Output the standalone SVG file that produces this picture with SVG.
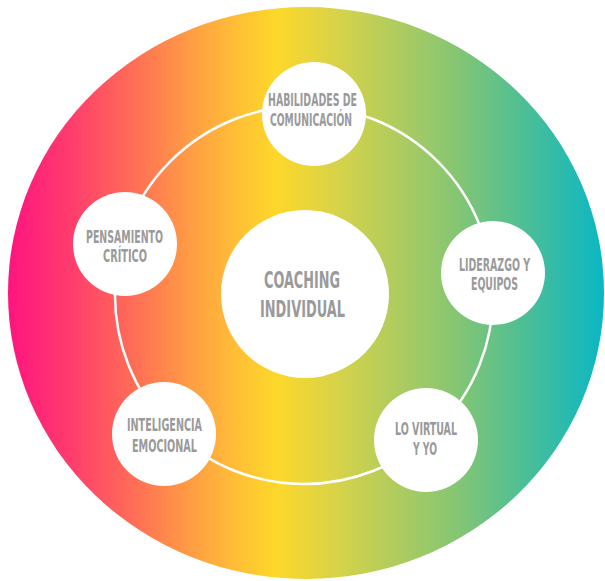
<svg xmlns="http://www.w3.org/2000/svg" width="605" height="581" viewBox="0 0 605 581">
<defs>
<linearGradient id="rainbow" gradientUnits="userSpaceOnUse" x1="8" y1="0" x2="604" y2="0">
<stop offset="0" stop-color="#FF1480"/>
<stop offset="0.1" stop-color="#FF3A6E"/>
<stop offset="0.2" stop-color="#FF6858"/>
<stop offset="0.3" stop-color="#FF9A45"/>
<stop offset="0.38" stop-color="#FFBD36"/>
<stop offset="0.45" stop-color="#FDD82A"/>
<stop offset="0.55" stop-color="#D8D348"/>
<stop offset="0.65" stop-color="#B0CC5E"/>
<stop offset="0.75" stop-color="#86C672"/>
<stop offset="0.86" stop-color="#50BF93"/>
<stop offset="1" stop-color="#0AB7C4"/>
</linearGradient>
<style>
.node{fill:#FFFFFF;}
.lbl{font-family:"Liberation Sans Narrow","DejaVu Sans Condensed","Liberation Sans",sans-serif;font-weight:bold;fill:#9A9A9A;font-size:18px;}
.big{font-size:23px;}
.ring{fill:none;stroke:#FFFFFF;stroke-width:2.5;}
</style>
</defs>
<ellipse id="background" cx="306" cy="293" rx="298" ry="286" fill="url(#rainbow)"/>
<g id="connectors">
<circle class="ring" cx="304" cy="295" r="189"/>
</g>
<g id="center">
<circle class="node" cx="305" cy="294" r="84"/>
<text class="lbl big" x="264" y="288" textLength="76" lengthAdjust="spacingAndGlyphs">COACHING</text>
<text class="lbl big" x="260" y="317" textLength="85" lengthAdjust="spacingAndGlyphs">INDIVIDUAL</text>
</g>
<g id="habilidades">
<circle class="node" cx="314" cy="114" r="52"/>
<text class="lbl" x="268" y="106" textLength="89" lengthAdjust="spacingAndGlyphs">HABILIDADES DE</text>
<text class="lbl" x="270" y="126" textLength="82" lengthAdjust="spacingAndGlyphs">COMUNICACIÓN</text>
</g>
<g id="liderazgo">
<circle class="node" cx="493" cy="273" r="52"/>
<text class="lbl" x="459" y="271" textLength="71" lengthAdjust="spacingAndGlyphs">LIDERAZGO Y</text>
<text class="lbl" x="471" y="290" textLength="47" lengthAdjust="spacingAndGlyphs">EQUIPOS</text>
</g>
<g id="virtual">
<circle class="node" cx="426" cy="440" r="52"/>
<text class="lbl" x="395" y="435" textLength="62" lengthAdjust="spacingAndGlyphs">LO VIRTUAL</text>
<text class="lbl" x="413" y="455" textLength="24" lengthAdjust="spacingAndGlyphs">Y YO</text>
</g>
<g id="inteligencia">
<circle class="node" cx="164" cy="434" r="52"/>
<text class="lbl" x="127" y="431" textLength="75" lengthAdjust="spacingAndGlyphs">INTELIGENCIA</text>
<text class="lbl" x="132" y="452" textLength="65" lengthAdjust="spacingAndGlyphs">EMOCIONAL</text>
</g>
<g id="pensamiento">
<circle class="node" cx="125" cy="244" r="52"/>
<text class="lbl" x="86" y="243" textLength="77" lengthAdjust="spacingAndGlyphs">PENSAMIENTO</text>
<text class="lbl" x="103" y="262" textLength="44" lengthAdjust="spacingAndGlyphs">CRÍTICO</text>
</g>
</svg>
